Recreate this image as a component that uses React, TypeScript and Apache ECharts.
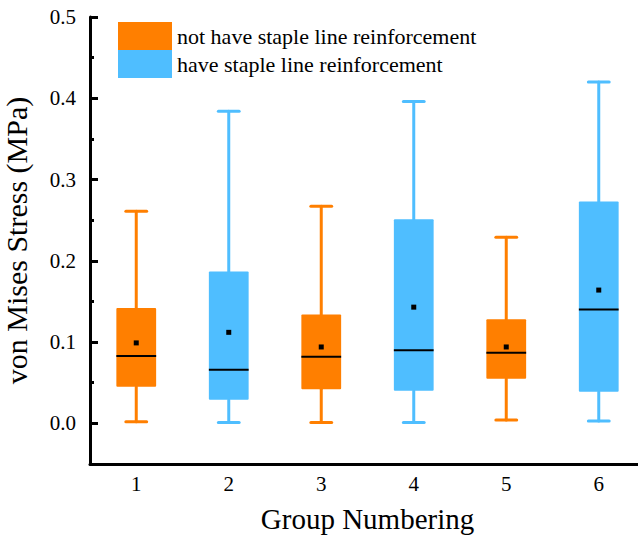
import React, { useEffect, useRef } from "react";
import * as echarts from "echarts";

const groups = ["1", "2", "3", "4", "5", "6"];
const seriesNames = ["not have staple line reinforcement", "have staple line reinforcement"];
// per group: which series (0 = not have, 1 = have)
const groupSeries = [0, 1, 0, 1, 0, 1];
const mins = [0.002, 0.001, 0.001, 0.001, 0.004, 0.003];
const q1s = [0.045, 0.029, 0.042, 0.04, 0.055, 0.039];
const medians = [0.083, 0.066, 0.082, 0.09, 0.087, 0.14];
const q3s = [0.142, 0.187, 0.134, 0.251, 0.128, 0.273];
const maxs = [0.261, 0.384, 0.267, 0.396, 0.229, 0.42];
const means = [0.099, 0.112, 0.094, 0.143, 0.094, 0.164];
const yMajorTicks = [0, 0.1, 0.2, 0.3, 0.4, 0.5];
const yMinorTicks = [0.05, 0.15, 0.25, 0.35, 0.45];

const COLORS = ["#FF7F00", "#4FBEFF"];
const FONT = '"Liberation Serif", "Times New Roman", serif';

function buildData(s: number) {
  const out: number[][] = [];
  groups.forEach((_, i) => {
    if (groupSeries[i] === s) out.push([i, mins[i], q1s[i], medians[i], q3s[i], maxs[i], means[i]]);
  });
  return out;
}

const renderItem = (params: any, api: any) => {
  const x = api.value(0);
  const pMin = api.coord([x, api.value(1)]);
  const pQ1 = api.coord([x, api.value(2)]);
  const pMed = api.coord([x, api.value(3)]);
  const pQ3 = api.coord([x, api.value(4)]);
  const pMax = api.coord([x, api.value(5)]);
  const pMean = api.coord([x, api.value(6)]);
  const band = api.size([1, 0])[0];
  const bw = band * 0.43;
  const cw = band * 0.225;
  const cx = pMin[0];
  const color = api.visual("color");
  const ws = { stroke: color, lineWidth: 3, lineCap: "round" };
  return {
    type: "group",
    children: [
      { type: "line", shape: { x1: cx, y1: pMax[1], x2: cx, y2: pQ3[1] }, style: ws },
      { type: "line", shape: { x1: cx, y1: pQ1[1], x2: cx, y2: pMin[1] }, style: ws },
      { type: "line", shape: { x1: cx - cw / 2, y1: pMax[1], x2: cx + cw / 2, y2: pMax[1] }, style: ws },
      { type: "line", shape: { x1: cx - cw / 2, y1: pMin[1], x2: cx + cw / 2, y2: pMin[1] }, style: ws },
      {
        type: "rect",
        shape: { x: cx - bw / 2, y: pQ3[1], width: bw, height: pQ1[1] - pQ3[1], r: 1 },
        style: { fill: color },
      },
      {
        type: "line",
        shape: { x1: cx - bw / 2, y1: pMed[1], x2: cx + bw / 2, y2: pMed[1] },
        style: { stroke: "#000", lineWidth: 2 },
      },
      {
        type: "rect",
        shape: { x: cx - 2.5, y: pMean[1] - 2.5, width: 5, height: 5 },
        style: { fill: "#000" },
      },
    ],
  };
};

export default function App() {
  const ref = useRef<HTMLDivElement>(null);
  useEffect(() => {
    if (!ref.current) return;
    const chart = echarts.init(ref.current, null, { renderer: "svg" });
    chart.setOption({
      animation: false,
      backgroundColor: "#fff",
      textStyle: { fontFamily: FONT },
      legend: {
        orient: "vertical",
        left: 118,
        top: 22,
        padding: 0,
        itemGap: 0,
        itemWidth: 54,
        itemHeight: 28,
        icon: "rect",
        selectedMode: false,
        data: seriesNames,
        textStyle: { fontFamily: FONT, fontSize: 22, color: "#000" },
      },
      grid: {
        left: 90,
        top: 17,
        width: 555,
        height: 447,
        containLabel: false,
        outerBoundsMode: "none",
      },
      xAxis: {
        type: "category",
        data: groups,
        boundaryGap: true,
        axisLine: { onZero: false, lineStyle: { color: "#000", width: 3 } },
        axisTick: { inside: true, alignWithLabel: true, length: 7, lineStyle: { color: "#000", width: 3 } },
        axisLabel: { fontFamily: FONT, fontSize: 21, color: "#000", margin: 9 },
        splitLine: { show: false },
        name: "Group Numbering",
        nameLocation: "middle",
        nameGap: 40,
        nameTextStyle: { fontFamily: FONT, fontSize: 29, color: "#000" },
      },
      yAxis: [
        {
          type: "value",
          min: -0.05,
          max: 0.5,
          axisLine: { show: true, onZero: false, lineStyle: { color: "#000", width: 3 } },
          axisTick: {
            show: true,
            inside: true,
            length: 8,
            customValues: yMajorTicks,
            lineStyle: { color: "#000", width: 3 },
          },
          axisLabel: {
            customValues: yMajorTicks,
            formatter: (v: number) => v.toFixed(1),
            fontFamily: FONT,
            fontSize: 21,
            color: "#000",
            margin: 14,
          },
          splitLine: { show: false },
          name: "von Mises Stress (MPa)",
          nameLocation: "middle",
          nameRotate: 90,
          nameGap: 59,
          nameTextStyle: { fontFamily: FONT, fontSize: 30, color: "#000" },
        },
        {
          type: "value",
          min: -0.05,
          max: 0.5,
          position: "left",
          axisLine: { show: false, onZero: false },
          axisTick: {
            show: true,
            inside: true,
            length: 4,
            customValues: yMinorTicks,
            lineStyle: { color: "#000", width: 3 },
          },
          axisLabel: { show: false },
          splitLine: { show: false },
        },
      ],
      series: [0, 1].map((s) => ({
        name: seriesNames[s],
        type: "custom",
        renderItem,
        itemStyle: { color: COLORS[s] },
        encode: { x: 0, y: [1, 2, 3, 4, 5, 6] },
        data: buildData(s),
        clip: false,
      })),
    });
    return () => chart.dispose();
  }, []);
  return (
    <div
      ref={ref}
      style={{ position: "fixed", left: 0, top: 0, width: 638, height: 538, background: "#fff" }}
    />
  );
}
